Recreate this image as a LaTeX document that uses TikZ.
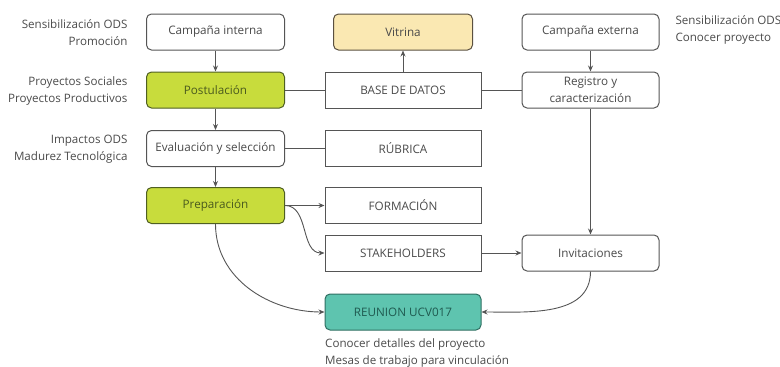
\documentclass[tikz,border=0pt]{standalone}
\usepackage{fontspec}
\setmainfont{Open Sans}
\usetikzlibrary{arrows.meta}
\definecolor{txt}{HTML}{4A4A4A}
\definecolor{edge}{HTML}{555555}
\definecolor{lime}{HTML}{C8DC3C}
\definecolor{limeb}{HTML}{4F5F22}
\definecolor{limet}{HTML}{4A5A1E}
\definecolor{teal}{HTML}{5EC4AF}
\definecolor{tealb}{HTML}{2F6F62}
\definecolor{tealt}{HTML}{1F5A50}
\definecolor{sand}{HTML}{FAE8B2}
\definecolor{sandb}{HTML}{5A5040}
\begin{document}
\begin{tikzpicture}[x=1pt,y=-1pt,
  every node/.style={font=\fontsize{11.7}{14}\selectfont, text=txt},
  rbox/.style={draw=edge, line width=1pt, rounded corners=5pt, fill=white, minimum height=36pt, align=center, inner sep=2pt},
  sbox/.style={draw=edge, line width=1pt, fill=white, minimum width=156pt, minimum height=36pt, inner sep=2pt},
  lcol/.style={rbox, minimum width=138pt},
  rcol/.style={rbox, minimum width=137pt},
  greenbox/.style={lcol, fill=lime, draw=limeb, text=limet},
  note/.style={align=right, font=\fontsize{11.6}{17}\selectfont},
  notel/.style={align=left, font=\fontsize{11.6}{17}\selectfont},
  conn/.style={draw=edge, line width=0.9pt},
  arr/.style={conn, -{Stealth[length=6pt,width=5pt]}}
]
\useasboundingbox (0,0) rectangle (780,367);
% left column
\node[lcol] (ci) at (215.5,32) {Campaña interna};
\node[greenbox] (post) at (215.5,90) {Postulación};
\node[lcol] (eval) at (215.5,148.5) {Evaluación y selección};
\node[greenbox] (prep) at (215.5,205.5) {Preparación};
% middle column
\node[rbox, minimum width=139pt, fill=sand, draw=sandb] (vit) at (403,32) {Vitrina};
\node[sbox] (bd) at (403,90) {BASE DE DATOS};
\node[sbox] (rub) at (403,148.5) {RÚBRICA};
\node[sbox] (form) at (403,205.5) {FORMACIÓN};
\node[sbox] (stk) at (403,253) {STAKEHOLDERS};
\node[rbox, minimum width=156pt, fill=teal, draw=tealb, text=tealt] (reu) at (403,312) {REUNION UCV017};
% right column
\node[rcol] (ce) at (590.5,32) {Campaña externa};
\node[rcol, font=\fontsize{11.7}{16.5}\selectfont] (reg) at (590.5,90) {Registro y\\caracterización};
\node[rcol] (inv) at (590.5,253) {Invitaciones};
% notes
\node[note, anchor=east] (n1) at (131,33) {Sensibilización ODS\\Promoción};
\node[note, anchor=east] (n2) at (131,91) {Proyectos Sociales\\Proyectos Productivos};
\node[note, anchor=east] (n3) at (131,149) {Impactos ODS\\Madurez Tecnológica};
\node[notel, anchor=west] (n4) at (672,30) {Sensibilización ODS\\Conocer proyecto};
\node[notel, anchor=north west, inner sep=0pt] (n5) at (325,338) {Conocer detalles del proyecto\\Mesas de trabajo para vinculación};
% connectors
\draw[arr] (ci) -- (post);
\draw[arr] (post) -- (eval);
\draw[arr] (eval) -- (prep);
\draw[conn] (post) -- (bd);
\draw[conn] (eval) -- (rub);
\draw[conn] (bd) -- (reg);
\draw[arr] (bd) -- (vit);
\draw[arr] (ce) -- (reg);
\draw[arr] (reg) -- (inv);
\draw[arr] (prep) -- (form);
\draw[arr] (prep.east) to[out=0,in=180] (stk.west);
\draw[arr] (stk) -- (inv);
\draw[arr] (prep.south) to[out=-90,in=180] (reu.west);
\draw[arr] (inv.south) to[out=-90,in=0] (reu.east);
\end{tikzpicture}
\end{document}
